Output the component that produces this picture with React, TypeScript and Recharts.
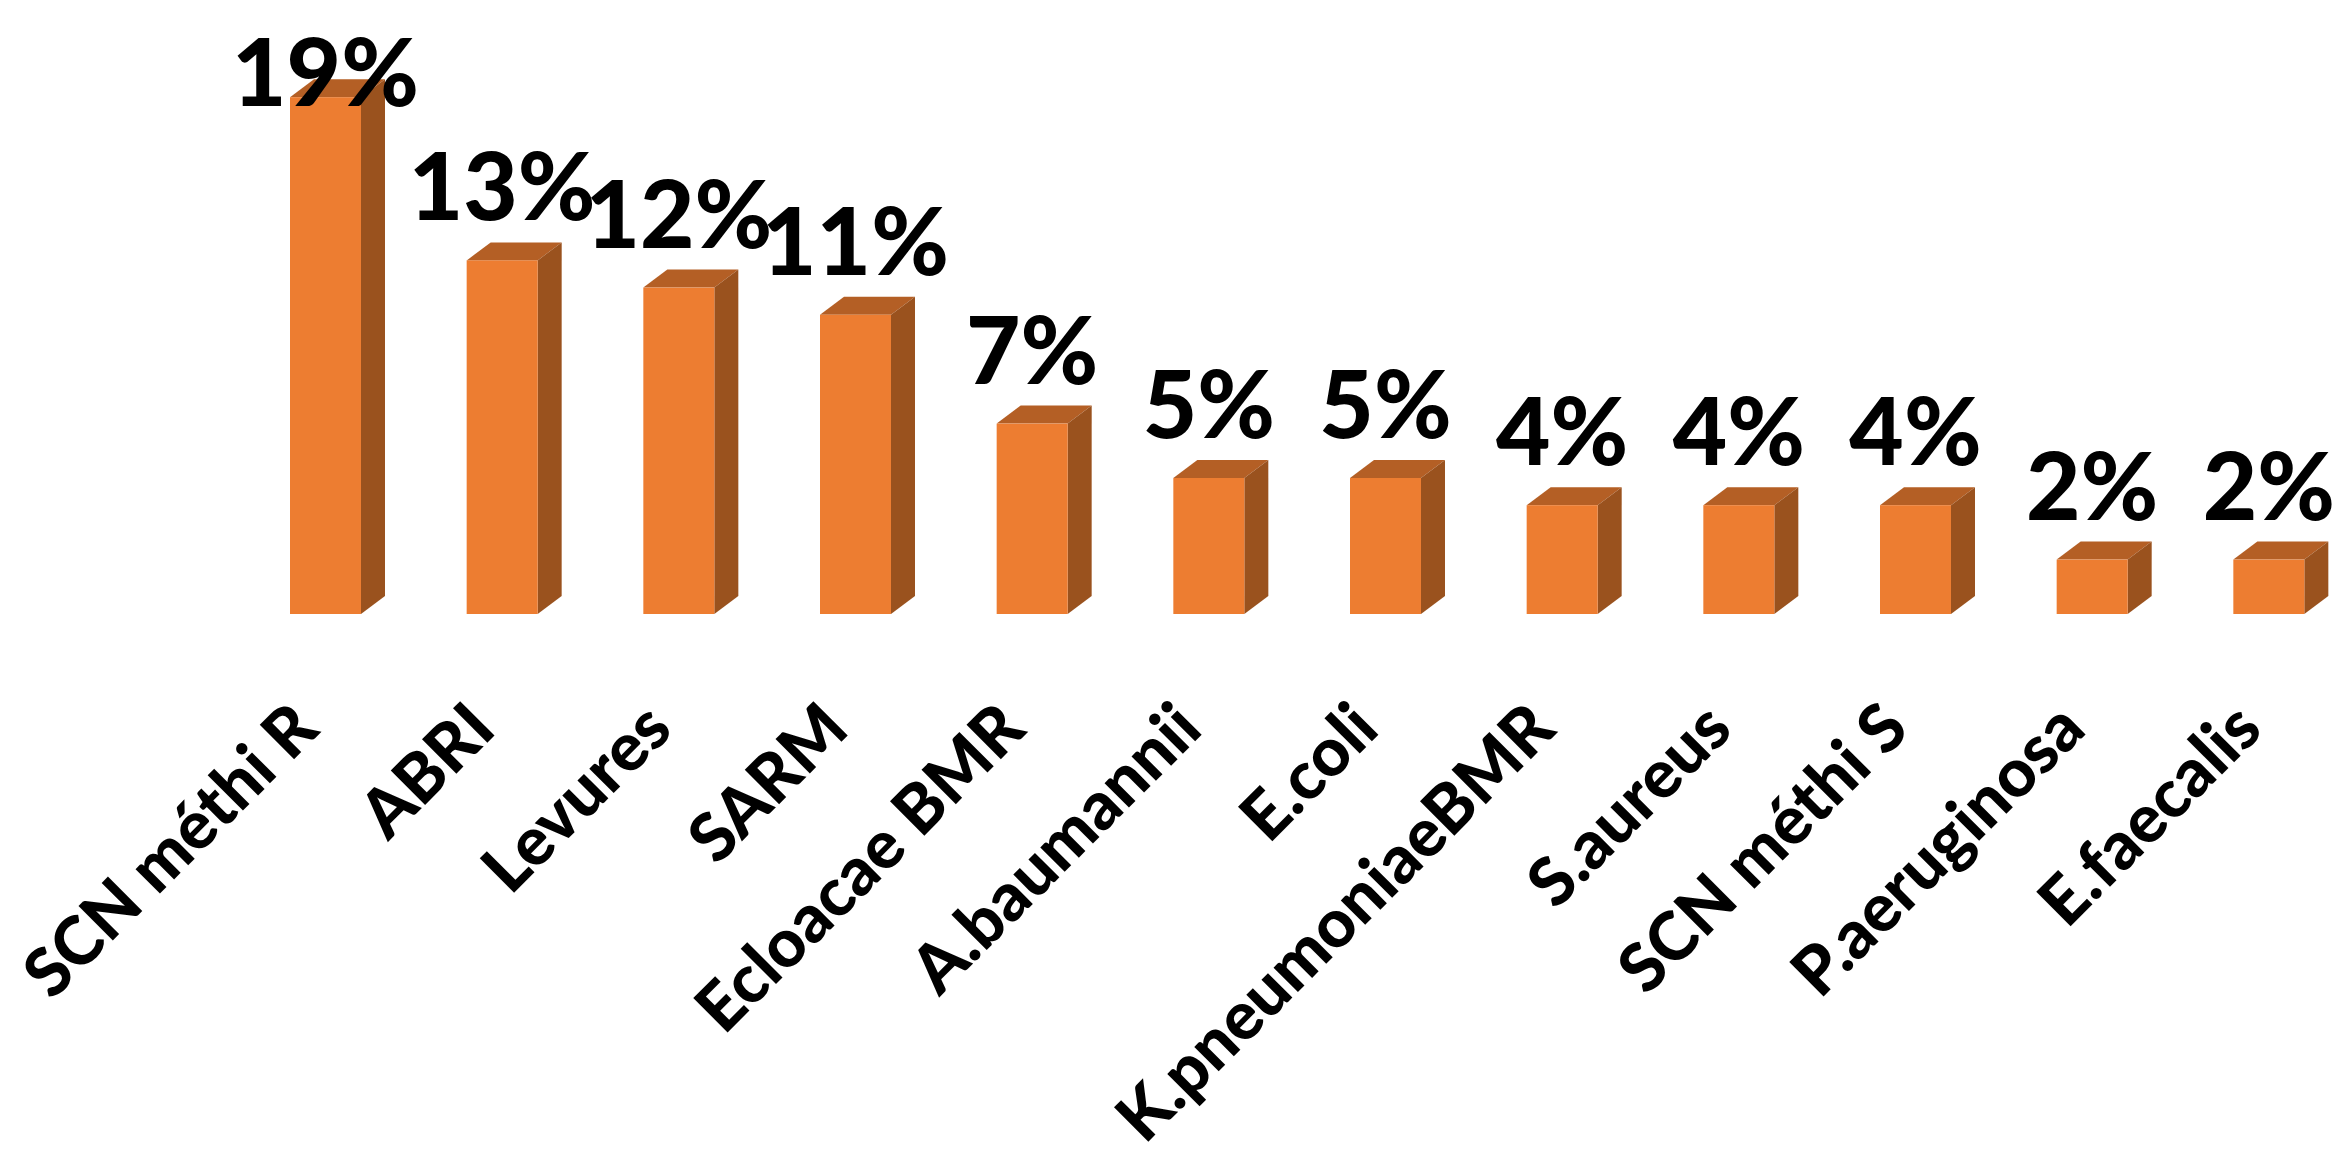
import { Bar, BarChart, LabelList, XAxis, YAxis } from "recharts";

const categories = [
  "SCN méthi R",
  "ABRI",
  "Levures",
  "SARM",
  "Ecloacae BMR",
  "A.baumannii",
  "E.coli",
  "K.pneumoniaeBMR",
  "S.aureus",
  "SCN méthi S",
  "P.aeruginosa",
  "E.faecalis",
];
const percents = [19, 13, 12, 11, 7, 5, 5, 4, 4, 4, 2, 2];

const chartData = categories.map((name, i) => ({ name, percent: percents[i] }));

const FONT = "Lato, Carlito, sans-serif";
const DEPTH_X = 24;
const DEPTH_Y = 18;
const LABEL_GAP = 40;
const LABEL_MIN_BASELINE = 106;

// Box with a lit top and a shaded right side, giving the column its 3D look
function Column3D({ x, y, width, height }: any) {
  const r = x + width;
  const b = y + height;
  return (
    <g>
      <polygon
        points={`${x},${y} ${x + DEPTH_X},${y - DEPTH_Y} ${r + DEPTH_X},${y - DEPTH_Y} ${r},${y}`}
        fill="#B45F25"
      />
      <polygon
        points={`${r},${y} ${r + DEPTH_X},${y - DEPTH_Y} ${r + DEPTH_X},${b - DEPTH_Y} ${r},${b}`}
        fill="#9A521E"
      />
      <rect x={x} y={y} width={width} height={height} fill="#ED7D31" />
    </g>
  );
}

// The tallest label would leave the plot, so the baseline is held at a minimum
function PercentLabel({ x, y, width, value }: any) {
  return (
    <text
      x={x + width / 2}
      y={Math.max(y - LABEL_GAP, LABEL_MIN_BASELINE)}
      textAnchor="middle"
      fontFamily={FONT}
      fontWeight={900}
      fontSize={94}
      fill="#000"
    >
      {value}%
    </text>
  );
}

function CategoryTick({ x, y, payload }: any) {
  return (
    <text
      transform={`translate(${x - 4},${y}) rotate(-45)`}
      textAnchor="end"
      fontFamily={FONT}
      fontWeight={900}
      fontSize={67}
      fill="#000"
    >
      {payload.value}
    </text>
  );
}

export default function App() {
  return (
    <div style={{ position: "absolute", left: 0, top: 0, width: 2336, height: 1154, overflow: "hidden", background: "#fff" }}>
      <BarChart
        width={2336}
        height={1154}
        data={chartData}
        margin={{ top: 70, right: -21, bottom: 0, left: 237 }}
        barSize={71}
      >
        <XAxis
          dataKey="name"
          interval={0}
          height={540}
          tickSize={0}
          tickMargin={118}
          axisLine={false}
          tickLine={false}
          tick={<CategoryTick />}
        />
        <YAxis hide domain={[0, 20]} />
        <Bar dataKey="percent" shape={<Column3D />} isAnimationActive={false}>
          <LabelList dataKey="percent" content={<PercentLabel />} />
        </Bar>
      </BarChart>
    </div>
  );
}
